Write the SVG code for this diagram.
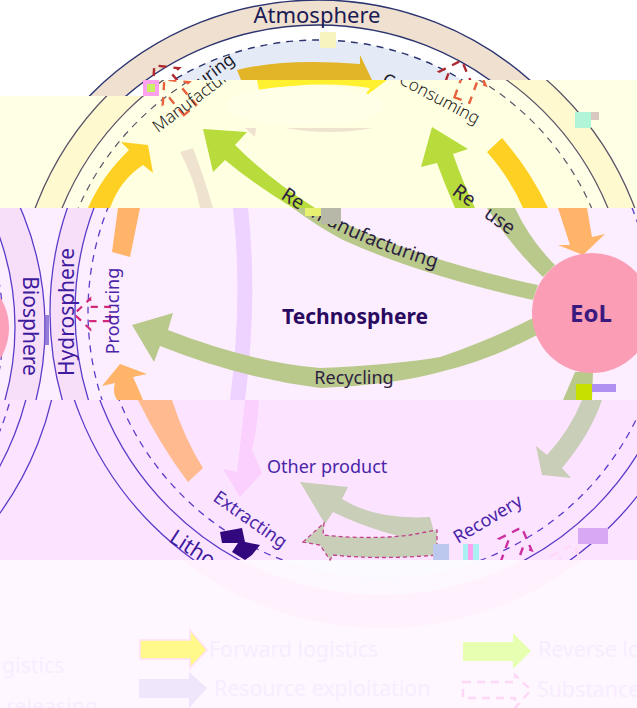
<svg xmlns="http://www.w3.org/2000/svg" width="637" height="708" viewBox="0 0 637 708">
<style>
text{font-family:"Noto Sans","Liberation Sans",sans-serif}
.sp{font-size:21px;fill:#3d1a9e}
.st{font-size:17px;font-weight:300;fill:#222}
.sb{font-size:18px;fill:#4a25a8}
.lg{font-size:21.3px;fill:#f7edff}
.ln{fill:none;stroke:#5a3cc8;stroke-width:1.3}
.ld{fill:none;stroke:#5a3cc8;stroke-width:1.3;stroke-dasharray:7 6}
.ty{fill:none;stroke:#5c5468;stroke-width:1.3}
.tyd{fill:none;stroke:#5c5468;stroke-width:1.2;stroke-dasharray:7 6}
.tt{fill:none;stroke:#2c3570;stroke-width:1.4}
.ttd{fill:none;stroke:#2c3570;stroke-width:1.4;stroke-dasharray:7 6}
.ol{fill:#b9c98c}
.gr{fill:#c9ceb8}
.yl{fill:#ffd024}
.or{fill:#ffb469}
.bg{fill:#b7dc3c}
.dh{fill:none;stroke-width:2.4;stroke-dasharray:8 7}
.on{font-size:19.5px;fill:#2c2140}
</style>
<defs>
<clipPath id="cTop"><path d="M0,0H637V80H143V96H0Z"/></clipPath>
<clipPath id="cYel"><path d="M143,80H637V208H0V96H143Z"/></clipPath>
<clipPath id="cPink"><rect x="0" y="208" width="637" height="192"/></clipPath>
<clipPath id="cLow"><rect x="0" y="400" width="637" height="160"/></clipPath>
<clipPath id="cBot"><rect x="0" y="560" width="637" height="148"/></clipPath>
<clipPath id="cPale"><rect x="545" y="544" width="40" height="16"/></clipPath>
<path id="dArrow" d="M0,-8H22V-17L40,0L22,17V8H0Z"/>
<path id="pRe" d="M280,198Q350,245 460,275"/>
<path id="pRu" d="M451,194L540,257"/>
</defs>
<rect width="637" height="708" fill="#fff"/>

<g id="tile-top" clip-path="url(#cTop)">
<circle cx="318" cy="320" r="320" fill="#efe0d0"/>
<circle cx="318" cy="320" r="295" fill="#fff"/>
<circle cx="318" cy="320" r="280" fill="#e5ebf6"/>
<circle class="tt" cx="318" cy="320" r="320"/>
<circle class="tt" cx="318" cy="320" r="295"/>
<circle class="ttd" cx="318" cy="320" r="280"/>
</g>

<g id="tile-yellow" clip-path="url(#cYel)">
<rect y="80" width="637" height="128" fill="#ffffe6"/>
<circle cx="335" cy="320" r="320" fill="#fff9cf"/>
<circle cx="335" cy="320" r="295" fill="#ffffe8"/>
<circle cx="335" cy="320" r="280" fill="#ffffe2"/>
<circle class="ty" cx="335" cy="320" r="320"/>
<circle class="ty" cx="335" cy="320" r="295"/>
<circle class="tyd" cx="335" cy="320" r="280"/>
</g>

<g id="tile-pink" clip-path="url(#cPink)">
<rect y="208" width="637" height="192" fill="#fdeeff"/>
<circle cx="-255" cy="327" r="300" fill="#f8dff9"/>
<circle cx="-255" cy="327" r="270" fill="#fdeeff"/>
<circle cx="370" cy="312" r="320" fill="#f8dff9"/>
<circle cx="370" cy="312" r="295" fill="#fdeeff"/>
<circle class="ln" cx="-255" cy="327" r="300"/>
<circle class="ln" cx="-255" cy="327" r="270"/>
<circle class="ld" cx="-255" cy="327" r="258"/>
<circle class="ln" cx="370" cy="312" r="320"/>
<circle class="ln" cx="370" cy="312" r="295"/>
<circle class="ld" cx="370" cy="312" r="282"/>
<rect x="44" y="315" width="5" height="30" fill="#7a60d0" opacity=".8"/>
</g>

<g id="tile-lower" clip-path="url(#cLow)">
<rect y="400" width="637" height="160" fill="#fce3ff"/>
<circle class="ln" cx="-258" cy="327" r="318"/>
<circle class="ln" cx="-258" cy="327" r="293"/>
<circle class="ld" cx="-258" cy="327" r="278"/>
<circle class="ln" cx="382" cy="295" r="325"/>
<circle class="ln" cx="382" cy="295" r="301"/>
<circle class="ld" cx="382" cy="295" r="283"/>
</g>

<g id="tile-bottom" clip-path="url(#cBot)">
<rect y="560" width="637" height="148" fill="#fff7ff"/>
<circle cx="382" cy="300" r="328" fill="#fff1fe"/>
<circle cx="382" cy="295" r="300" fill="#fdf7ff"/>
<circle cx="382" cy="295" r="283" fill="#fafaff"/>
</g>

<g id="connectors">
<path d="M237,70Q285,58 360,64L360,55L372,80H241Z" fill="#e2b428"/>
<path d="M257,80H387L363,98L370,88Q320,80 259,90Z" fill="#fff030"/>
<ellipse cx="305" cy="106" rx="78" ry="20" fill="#ffffe8"/>
<path d="M285,128H373Q330,136 285,128ZM245,128H256L255,137Z" fill="#efe3cf"/>
<path class="yl" d="M88,208H110Q120,180 143,165L153,173L148,145L121,142L129,150Q102,176 88,208Z"/>
<path class="yl" d="M487,152L502,138Q530,170 548,208H523Q510,178 487,152Z"/>
<path class="bg" d="M203,129L247,132L235,145Q270,180 315,208H293Q255,185 225,160L213,172Z"/>
<path class="bg" d="M432,127L468,149L453,154Q462,180 475,208H455Q445,185 437,163L421,167Z"/>
<path d="M180,152L193,148Q205,180 213,208H200Q195,180 180,152Z" fill="#efe3cf"/>
<path d="M233,208H248Q258,300 245,400H230Q243,300 233,208Z" fill="#eed2ff"/>
<path d="M245,400H259Q257,430 252,450L262,473L240,497L223,469L237,472Q242,430 245,400Z" fill="#fbd0ff"/>
<path class="or" d="M118,208H140L130,257L112,252Z"/>
<path class="or" d="M558,208H587L592,237L605,234L583,255L558,245L570,245Z"/>
<path class="or" d="M120,364L147,374L133,377Q138,388 143,400H117Q112,392 115,383L102,386Z"/>
<path d="M138,400H172Q185,440 203,468L188,482Q160,445 138,400Z" fill="#ffba90"/>
<path class="ol" d="M315,208Q400,255 538,285L533,300Q420,275 343,240Q315,225 293,208Z"/>
<path class="ol" d="M487,208H515Q530,240 555,265L543,277Q515,250 495,220Z"/>
<path class="ol" d="M132,325L173,313L168,330Q250,362 320,368Q393,365 440,357Q490,340 533,318L537,335Q490,360 440,372Q393,385 320,388Q240,378 160,346L154,362Z"/>
<path class="ol" d="M575,372H593L592,400H563Z"/>
<path class="gr" d="M582,400H602Q590,435 562,468L571,478L542,475L536,446L547,455Q570,430 582,400Z"/>
<path class="gr" d="M300,482L348,487L342,499Q375,520 430,517L437,544Q380,535 333,512L325,524Z"/>
<path class="gr" stroke="#c0408a" stroke-width="1.3" stroke-dasharray="4 3" d="M303,542L324,523L323,535Q370,540 410,535L437,530V555Q380,560 333,555L330,560L320,545Z"/>
</g>

<g id="node-eol">
<circle cx="592" cy="313" r="60" fill="#fb9db5"/>
<text x="591" y="322" font-size="24" font-weight="700" fill="#3b1a80" text-anchor="middle">EoL</text>
</g>
<g id="node-biosphere-core"><circle cx="-49" cy="328" r="58" fill="#fba0b8"/></g>

<g id="substances">
<g clip-path="url(#cTop)"><use href="#dArrow" class="dh" stroke="#b02a30" transform="translate(180,96) rotate(-130)"/><use href="#dArrow" class="dh" stroke="#b02a30" transform="translate(448,98) rotate(-70)"/></g>
<g clip-path="url(#cYel)"><use href="#dArrow" class="dh" stroke="#e8603c" transform="translate(190,110) rotate(-130)"/><use href="#dArrow" class="dh" stroke="#e8603c" transform="translate(462,100) rotate(-70)"/></g>
<use href="#dArrow" class="dh" stroke="#d02a78" transform="translate(110,314) rotate(180) scale(.9)"/>
<g clip-path="url(#cLow)"><use href="#dArrow" class="dh" stroke="#cc2fa0" transform="translate(508,565) rotate(-70)"/></g>
<g clip-path="url(#cPale)"><use href="#dArrow" class="dh" stroke="#ffd8f4" transform="translate(560,582) rotate(-70)"/></g>
<path d="M220,532L242,528L245,542L260,545L252,555L245,560L232,552L238,543L222,543Z" fill="#33087e"/>
</g>

<g id="labels">
<text x="317" y="23" font-size="22" fill="#1a1a55" text-anchor="middle">Atmosphere</text>
<text class="sp" transform="translate(74,312) rotate(-90)" text-anchor="middle">Hydrosphere</text>
<text class="sp" transform="translate(23,326) rotate(90)" text-anchor="middle">Biosphere</text>
<text class="sb" transform="translate(119,311) rotate(-90)" text-anchor="middle">Producing</text>
<text x="355" y="324" font-size="21" font-weight="700" fill="#2a0a60" text-anchor="middle">Technosphere</text>
<text x="354" y="384" font-size="18" fill="#2c2140" text-anchor="middle">Recycling</text>
<text class="sb" x="267" y="473">Other product</text>
<text class="sb" transform="translate(212,500) rotate(35)">Extracting</text>
<text class="sb" transform="translate(458,544) rotate(-31)">Recovery</text>
<g clip-path="url(#cLow)"><text class="sp" transform="translate(168,541) rotate(33)">Lithosphere</text></g>
<g clip-path="url(#cTop)">
<text font-size="17" fill="#1a1a2a" transform="translate(141,133) rotate(-37)">Manufacturing</text>
<text font-size="17" fill="#1a1a2a" transform="translate(381,83) rotate(28)">Consuming</text>
</g>
<g clip-path="url(#cYel)">
<text class="st" transform="translate(158,133) rotate(-37)">Manufacturing</text>
<text class="st" transform="translate(398,83) rotate(28)">Consuming</text>
</g>
<text class="on"><textPath href="#pRe">Re<tspan dx="12">manufacturing</tspan></textPath></text>
<text class="on"><textPath href="#pRu">Re<tspan dx="16">use</tspan></textPath></text>
</g>

<g id="glitches">
<rect x="143" y="80" width="16" height="16" fill="#fda0ee"/><rect x="147" y="84" width="8" height="8" fill="#c8f060"/>
<rect x="575" y="112" width="16" height="16" fill="#b0f5d8"/><rect x="591" y="112" width="8" height="8" fill="#d8c8c0"/>
<rect x="305" y="208" width="16" height="8" fill="#e8f070"/><rect x="321" y="208" width="20" height="16" fill="#b8b8a8"/>
<rect x="576" y="384" width="16" height="16" fill="#c8e000"/><rect x="592" y="384" width="24" height="8" fill="#b090f0"/>
<rect x="320" y="32" width="16" height="16" fill="#f8f4c0"/>
<rect x="433" y="544" width="16" height="16" fill="#bcc8ee"/>
<rect x="463" y="544" width="16" height="16" fill="#a8f0f4"/><rect x="468" y="544" width="5" height="16" fill="#fda0ee"/>
<rect x="578" y="528" width="30" height="16" fill="#d8a8f4"/>
</g>

<g id="legend">
<path d="M140,640H190V630L207,650L190,668V659H140Z" fill="#fff98c" stroke="#ffe0f6" stroke-width="1.5"/>
<path d="M139,679H189V672L207,688L189,708V698H139Z" fill="#efe6fb"/>
<path d="M463,642H513V633L531,651L513,669V661H463Z" fill="#e6ffb0"/>
<path d="M463,682H515V675L531,690L515,708V698H463Z" fill="none" stroke="#ffd8f8" stroke-width="2.4" stroke-dasharray="8 6"/>
<text class="lg" x="209" y="657">Forward logistics</text>
<text class="lg" x="214" y="696">Resource exploitation</text>
<text class="lg" x="538" y="657">Reverse lo</text>
<text class="lg" x="537" y="697">Substance</text>
<text class="lg" x="2" y="673">gistics</text>
<text class="lg" x="6" y="714">releasing</text>
</g>
</svg>
